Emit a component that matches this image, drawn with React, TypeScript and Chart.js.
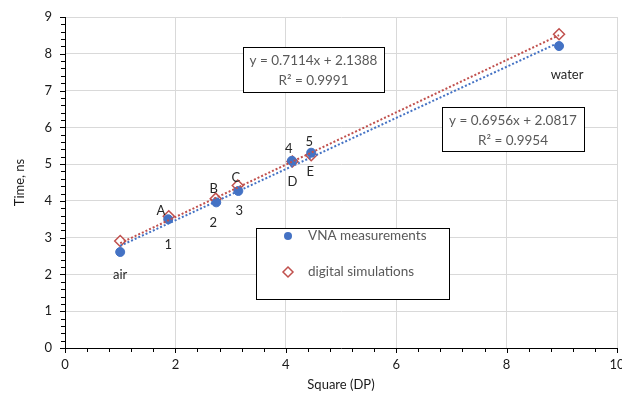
import React, { useEffect, useRef } from 'react';
import { Chart, registerables } from 'chart.js';
Chart.register(...registerables);

// ---- data ----
const vnaX = [1.0, 1.87, 2.74, 3.14, 4.11, 4.46, 8.95];
const vnaY = [2.61, 3.5, 3.96, 4.27, 5.09, 5.31, 8.21];
const simX = [1.0, 1.88, 2.73, 3.13, 4.12, 4.46, 8.95];
const simY = [2.91, 3.58, 4.06, 4.42, 5.07, 5.24, 8.53];
const vnaLabels = ['air', '1', '2', '3', '4', '5', 'water'];
const simLabels = ['', 'A', 'B', 'C', 'D', 'E', ''];
const vnaSlope = 0.6956;
const vnaIntercept = 2.0817;
const vnaR2 = '0.9954';
const simSlope = 0.7114;
const simIntercept = 2.1388;
const simR2 = '0.9991';
const seriesNames = ['VNA measurements', 'digital simulations'];
const xTitle = 'Square (DP)';
const yTitle = 'Time, ns';
const xMax = 10;

// ---- styling / label placement ----
const BLUE = '#4472C4';
const RED = '#C0504D';
const FONT = 'Lato, "Open Sans", sans-serif';
const vnaLabelOffsets = [[0, 23], [0, 26], [-3, 20], [1, 20], [-3, -12], [-2, -11], [8, 29]];
const simLabelOffsets = [[0, 0], [-8, -6], [-2, -10], [-2, -8], [0, 20], [-1, 17], [0, 0]];

export default function App() {
  const ref = useRef<HTMLCanvasElement>(null);
  useEffect(() => {
    document.body.style.margin = '0';
    const canvas = ref.current!;
    const vnaPts = vnaX.map((x, i) => ({ x, y: vnaY[i] }));
    const simPts = simX.map((x, i) => ({ x, y: simY[i] }));
    const fit = (xs: number[], m: number, b: number) => {
      const lo = Math.min(...xs);
      const hi = Math.max(...xs);
      return [{ x: lo, y: m * lo + b }, { x: hi, y: m * hi + b }];
    };

    const overlay = {
      id: 'overlay',
      afterDraw(chart: any) {
        const c = chart.ctx as CanvasRenderingContext2D;
        const xs = chart.scales.x;
        const ys = chart.scales.y;
        const ca = chart.chartArea;
        c.save();
        // tick marks
        c.strokeStyle = '#000';
        c.lineWidth = 1;
        c.beginPath();
        for (let v = 0; v <= 10.0001; v += 0.4) {
          const px = Math.round(xs.getPixelForValue(v)) + 0.5;
          const major = Math.abs(v / 2 - Math.round(v / 2)) < 1e-6;
          c.moveTo(px, ca.bottom);
          c.lineTo(px, ca.bottom + (major ? 5 : 4));
        }
        for (let v = 0; v <= 9.0001; v += 0.2) {
          const py = Math.round(ys.getPixelForValue(v)) + 0.5;
          const major = Math.abs(v - Math.round(v)) < 1e-6;
          c.moveTo(ca.left, py);
          c.lineTo(ca.left - (major ? 5 : 4), py);
        }
        c.stroke();

        // last x tick label (edge, clipped by canvas like the original)
        c.font = `13px ${FONT}`;
        c.fillStyle = '#1a1a1a';
        c.textAlign = 'center';
        c.textBaseline = 'top';
        c.fillText(String(xMax), xs.getPixelForValue(xMax), ca.bottom + 10);

        // point labels
        c.font = `13px ${FONT}`;
        c.fillStyle = '#262626';
        c.textAlign = 'center';
        c.textBaseline = 'middle';
        const m0 = chart.getDatasetMeta(2).data;
        vnaLabels.forEach((t, i) => {
          if (!t) return;
          const p = m0[i];
          c.fillText(t, p.x + vnaLabelOffsets[i][0], p.y + vnaLabelOffsets[i][1]);
        });
        const m1 = chart.getDatasetMeta(3).data;
        simLabels.forEach((t, i) => {
          if (!t) return;
          const p = m1[i];
          c.fillText(t, p.x + simLabelOffsets[i][0], p.y + simLabelOffsets[i][1]);
        });

        // equation boxes
        const eqBox = (x0: number, y0: number, x1: number, y1: number, l1: string, l2: string) => {
          c.fillStyle = '#fff';
          c.fillRect(x0, y0, x1 - x0, y1 - y0);
          c.strokeStyle = '#000';
          c.lineWidth = 1;
          c.strokeRect(x0 + 0.5, y0 + 0.5, x1 - x0, y1 - y0);
          c.fillStyle = '#595959';
          c.font = `13.5px ${FONT}`;
          c.textAlign = 'center';
          const cx = (x0 + x1) / 2;
          c.fillText(l1, cx, y0 + 14);
          c.fillText(l2, cx, y0 + 34);
        };
        eqBox(243, 47, 384, 92, `y = ${simSlope}x + ${simIntercept}`, `R² = ${simR2}`);
        eqBox(442, 107, 584, 151, `y = ${vnaSlope}x + ${vnaIntercept}`, `R² = ${vnaR2}`);

        // legend
        const lx0 = 256, ly0 = 228, lx1 = 449, ly1 = 299;
        c.fillStyle = '#fff';
        c.fillRect(lx0, ly0, lx1 - lx0, ly1 - ly0);
        c.strokeStyle = '#000';
        c.strokeRect(lx0 + 0.5, ly0 + 0.5, lx1 - lx0, ly1 - ly0);
        c.fillStyle = BLUE;
        c.beginPath();
        c.arc(288, 236, 4, 0, Math.PI * 2);
        c.fill();
        c.strokeStyle = RED;
        c.lineWidth = 1.5;
        c.beginPath();
        c.moveTo(288, 267);
        c.lineTo(293, 272);
        c.lineTo(288, 277);
        c.lineTo(283, 272);
        c.closePath();
        c.stroke();
        c.fillStyle = '#595959';
        c.font = `13.5px ${FONT}`;
        c.textAlign = 'left';
        c.fillText(seriesNames[0], 308, 236);
        c.fillText(seriesNames[1], 308, 272);
        c.restore();
      },
    };

    const fitAxis = (w: number, h: number) => (scale: any) => {
      if (w) scale.width = w;
      if (h) scale.height = h;
      scale.paddingLeft = 0;
      scale.paddingRight = 0;
      scale.paddingTop = 0;
      scale.paddingBottom = 0;
    };

    const chart = new Chart(canvas, {
      type: 'scatter',
      data: {
        datasets: [
          {
            type: 'line',
            label: 'vna trend',
            data: fit(vnaX, vnaSlope, vnaIntercept),
            borderColor: BLUE,
            borderWidth: 2,
            borderDash: [2, 2],
            pointRadius: 0,
            fill: false,
          },
          {
            type: 'line',
            label: 'sim trend',
            data: fit(simX, simSlope, simIntercept),
            borderColor: RED,
            borderWidth: 2,
            borderDash: [2, 2],
            pointRadius: 0,
            fill: false,
          },
          {
            label: seriesNames[0],
            data: vnaPts,
            backgroundColor: BLUE,
            borderColor: BLUE,
            pointRadius: 4.5,
            pointStyle: 'circle',
          },
          {
            label: seriesNames[1],
            data: simPts,
            backgroundColor: '#fff',
            borderColor: RED,
            borderWidth: 1.5,
            pointRadius: 5.5,
            pointStyle: 'rectRot',
          },
        ],
      } as any,
      options: {
        animation: false,
        responsive: true,
        maintainAspectRatio: false,
        layout: { autoPadding: false, padding: { left: 0, right: 5, top: 17, bottom: 0 } },
        plugins: { legend: { display: false }, tooltip: { enabled: false } },
        scales: {
          x: {
            type: 'linear',
            min: 0,
            max: xMax,
            afterFit: fitAxis(0, 45),
            ticks: {
              stepSize: 2,
              color: '#1a1a1a',
              font: { size: 13, family: FONT },
              padding: 9,
              callback: (v: any) => (Number(v) >= xMax ? '' : String(v)),
            },
            grid: { color: '#D9D9D9', drawTicks: false },
            border: { color: '#000', width: 1 },
            title: {
              display: true,
              text: xTitle,
              color: '#1a1a1a',
              font: { size: 13, family: FONT },
              padding: { top: 2, bottom: 0 },
            },
          },
          y: {
            type: 'linear',
            min: 0,
            max: 9,
            afterFit: fitAxis(65, 0),
            ticks: { stepSize: 1, color: '#1a1a1a', font: { size: 13, family: FONT }, padding: 13 },
            grid: { color: '#D9D9D9', drawTicks: false },
            border: { color: '#000', width: 1 },
            title: {
              display: true,
              text: yTitle,
              color: '#1a1a1a',
              font: { size: 13, family: FONT },
              padding: { top: 12, bottom: 0 },
            },
          },
        },
      },
      plugins: [overlay],
    });
    return () => chart.destroy();
  }, []);
  return (
    <div style={{ position: 'absolute', left: 0, top: 0, width: 622, height: 393 }}>
      <canvas ref={ref} />
    </div>
  );
}
